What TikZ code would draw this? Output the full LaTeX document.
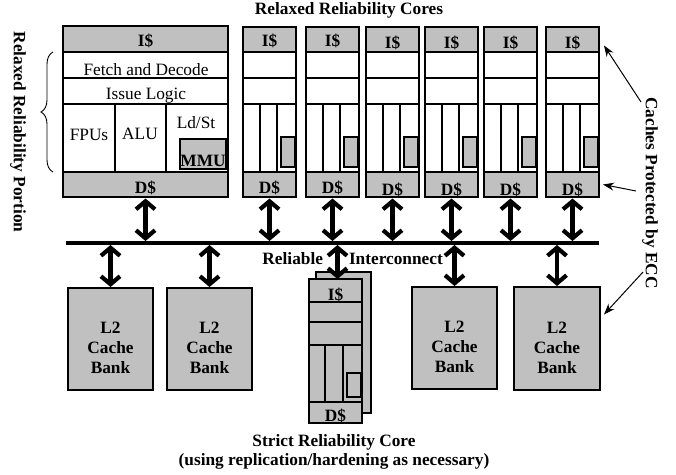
\documentclass[tikz,border=0pt]{standalone}
\usepackage{fontspec}
\setmainfont{Liberation Serif}
\usetikzlibrary{arrows.meta,fit,decorations.pathreplacing}
\definecolor{cg}{HTML}{C0C0C0}
\newcommand{\rbox}[6]{\node[draw, line width=1.5pt, fill=#6, inner sep=0pt, outer sep=0pt, fit={(#2,#3) (#4,#5)}] (#1) {};}
\begin{document}
\begin{tikzpicture}[x=1pt,y=-1pt,
  font=\fontsize{17.3}{20}\selectfont,
  lbl/.style={inner sep=0pt, outer sep=0pt, anchor=base},
  bl/.style={lbl, font=\fontsize{17.3}{20}\selectfont\bfseries},
  dbl/.style={line width=4.2pt, {Straight Barb[length=8pt,width=19pt]}-{Straight Barb[length=8pt,width=19pt]}},
  thinarrow/.style={line width=1pt, -{Stealth[length=11pt,width=8pt]}}]
\useasboundingbox (0,0) rectangle (676,474);

% title
\node[bl] (title) at (349,14) {Relaxed Reliability Cores};

% main core
\rbox{mi}{63}{26}{228}{52}{cg}
\rbox{mf}{63}{52}{228}{78}{white}
\rbox{ms}{63}{78}{228}{104}{white}
\rbox{mu1}{63}{104}{115}{172}{white}
\rbox{mu2}{115}{104}{166}{172}{white}
\rbox{mu3}{166}{104}{228}{172}{white}
\rbox{md}{63}{172}{228}{197}{cg}
\rbox{mm}{180}{139}{226}{169}{cg}
\draw[line width=2.2pt] (mi.south west) -- (mi.south east);
\draw[line width=2.2pt] (mf.south west) -- (mf.south east);
\node[bl] (mit) at (145.5,46) {I\$};
\node[lbl] (mft) at (146,75) {Fetch and Decode};
\node[lbl] (mst) at (146,99) {Issue Logic};
\node[lbl] (fpu) at (89,140) {FPUs};
\node[lbl] (alu) at (140,139) {ALU};
\node[lbl] (ldst) at (196,128) {Ld/St};
\node[bl] (mmu) at (203,166) {MMU};
\node[bl] (mdt) at (145.5,193) {D\$};

% small cores
\foreach \x/\n/\dy in {243/1/0, 306/2/0, 366/3/2, 425/4/2, 484/5/2, 546/6/2}{
  \rbox{c\n-i}{\x}{27}{{\x+53}}{52}{cg}
  \rbox{c\n-f}{\x}{52}{{\x+53}}{78}{white}
  \rbox{c\n-s}{\x}{78}{{\x+53}}{104}{white}
  \rbox{c\n-u1}{\x}{104}{{\x+17}}{172}{white}
  \rbox{c\n-u2}{{\x+17}}{104}{{\x+34}}{172}{white}
  \rbox{c\n-u3}{{\x+34}}{104}{{\x+53}}{172}{white}
  \rbox{c\n-d}{\x}{172}{{\x+53}}{197}{cg}
  \rbox{c\n-m}{{\x+38}}{137}{{\x+52}}{167}{cg}
  \draw[line width=2.2pt] (c\n-i.south west) -- (c\n-i.south east);
  \draw[line width=2.2pt] (c\n-f.south west) -- (c\n-f.south east);
  \node[bl] (c\n-it) at ({\x+26.5},{46+\dy}) {I\$};
  \node[bl] (c\n-dt) at ({\x+26.5},{193+\dy}) {D\$};
}

% bus
\coordinate (busl) at (66,243);
\coordinate (busr) at (599,243);
\coordinate (bustop) at (0,241);
\coordinate (busbot) at (0,245);
\draw[line width=4pt] (busl) -- (busr);

% upper arrows
\draw[dbl, shorten <=1.5pt] (md.south) -- (md.south |- bustop);
\foreach \n in {1,...,6}{
  \draw[dbl, shorten <=1.5pt] (c\n-d.south) -- (c\n-d.south |- bustop);
}

% L2 banks
\node[draw, line width=2pt, fill=cg, inner sep=0pt, fit={(68,288) (153,390)}] (l2a) {};
\node[draw, line width=2pt, fill=cg, inner sep=0pt, fit={(167,288) (252,390)}] (l2b) {};
\node[draw, line width=2pt, fill=cg, inner sep=0pt, fit={(412,287) (497,389)}] (l2c) {};
\node[draw, line width=2pt, fill=cg, inner sep=0pt, fit={(514,287) (600,390)}] (l2d) {};
\foreach \b in {a,b,c,d}{
  \node[bl, anchor=center, align=center] (l2\b-t) at ([yshift=-9pt]l2\b.center) {L2\\Cache\\Bank};
  \draw[dbl] (l2\b.north |- busbot) -- (l2\b.north);
}

% strict core
\rbox{sb}{316}{272}{371}{413}{cg}
\rbox{si}{309}{279}{362}{302}{cg}
\rbox{sf}{309}{302}{362}{322}{cg}
\rbox{ss}{309}{322}{362}{345}{cg}
\rbox{su1}{309}{345}{325}{402}{cg}
\rbox{su2}{325}{345}{343}{402}{cg}
\rbox{su3}{343}{345}{362}{402}{cg}
\rbox{sd}{309}{402}{362}{423}{cg}
\rbox{sm}{347}{373}{361}{397}{cg}
\draw[line width=2.2pt] (si.south west) -- (si.south east);
\draw[line width=2.2pt] (sf.south west) -- (sf.south east);
\node[bl] (sit) at (335.5,300) {I\$};
\node[bl] (sdt) at (335.5,421) {D\$};
\draw[dbl] ([xshift=2pt]si.north |- busbot) -- ([xshift=2pt]si.north);

% interconnect label
\node[bl, anchor=base east] (rel) at (323,264) {Reliable};
\node[bl, anchor=base west] (inter) at (349,264) {Interconnect};

% strict core caption
\node[bl] (cap1) at (334,446) {Strict Reliability Core};
\node[bl] (cap2) at (334,465) {(using replication/hardening as necessary)};

% left brace and label
\draw[decorate, decoration={brace, amplitude=12pt}, line width=0.9pt] (53,172) -- (53,52);
\node[font=\fontsize{17.3}{20}\selectfont\bfseries, rotate=-90, inner sep=0pt] (portion) at (18,132) {Relaxed Reliability Portion};

% right label and arrows
\node[font=\fontsize{17.3}{20}\selectfont\bfseries, rotate=-90, inner sep=0pt] (ecc) at (650,193) {Caches Protected by ECC};
\coordinate (e1) at (641,102);
\coordinate (e2) at (636,191);
\coordinate (e3) at (643,272);
\draw[thinarrow] (e1) -- ([xshift=5pt,yshift=-6pt]c6-i.east);
\draw[thinarrow] (e2) -- ([xshift=4pt]c6-d.east);
\draw[thinarrow] (e3) -- ([xshift=3pt,yshift=24pt]l2d.east);
\end{tikzpicture}
\end{document}
